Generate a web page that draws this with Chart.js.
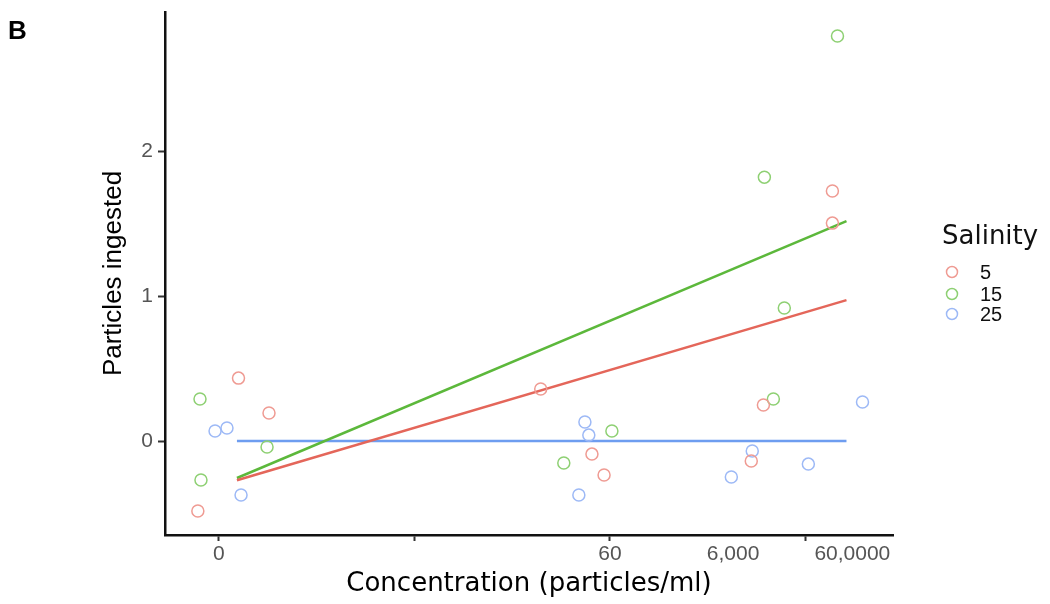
<!DOCTYPE html>
<html>
<head>
<meta charset="utf-8">
<script src="https://cdn.jsdelivr.net/npm/chart.js@4.4.1/dist/chart.umd.min.js"></script>
<style>
  html, body { margin: 0; padding: 0; background: #fff; }
  canvas { display: block; }
</style>
</head>
<body>
<canvas id="myChart" width="1050" height="604"></canvas>
<script>
// salinity groups
const grupos = ["5", "15", "25"]

// points per group (x on the transformed concentration axis)
const sal5X = [0.10, 0.256, -0.108, 1.646, 1.908, 1.97, 2.723, 2.785, 3.138, 3.138]
const sal5Y = [0.434, 0.193, -0.483, 0.359, -0.09, -0.234, -0.138, 0.248, 1.724, 1.503]
const sal15X = [-0.097, -0.092, 0.246, 1.764, 2.01, 2.79, 2.892, 2.836, 3.164]
const sal15Y = [0.29, -0.269, -0.041, -0.152, 0.069, 1.82, 0.917, 0.29, 2.793]
const sal25X = [-0.02, 0.041, 0.113, 1.872, 1.892, 1.841, 2.728, 2.621, 3.015, 3.292]
const sal25Y = [0.069, 0.09, -0.372, 0.131, 0.041, -0.372, -0.069, -0.248, -0.159, 0.269]

// fitted lines (start / end)
const lineaX = [0.092, 3.21]
const linea5Y = [-0.27, 0.972]
const linea15Y = [-0.255, 1.517]
const linea25Y = [0, 0]

// axis ticks
const xTickValores = [0, 1, 2, 2.63, 3, 3.24]
const xTickTextos = ["0", "", "60", "6,000", "", "60,0000"]
const xTickMarca = [true, true, true, false, true, false]
const yTickValores = [0, 1, 2]

const colPunto = ["#ef9b93", "#8ed073", "#9db9f6"]
const colLinea = ["#e4665a", "#5cb83b", "#6e9df0"]

const fuente = "'Liberation Sans', Arial, sans-serif"
const fuenteAncha = "'DejaVu Sans', sans-serif"

const juntar = (xs, ys) => xs.map((x, i) => ({ x: x, y: ys[i] }))

const puntos = [[sal5X, sal5Y], [sal15X, sal15Y], [sal25X, sal25Y]]
const lineas = [linea5Y, linea15Y, linea25Y]

let datasets = []
for (let i = 0; i < grupos.length; i++) {
  datasets.push({
    label: grupos[i],
    data: juntar(puntos[i][0], puntos[i][1]),
    showLine: false,
    pointStyle: "circle",
    pointRadius: 6,
    pointBorderWidth: 1.5,
    pointBorderColor: colPunto[i],
    pointBackgroundColor: "rgba(0,0,0,0)"
  })
}
for (let i = 0; i < grupos.length; i++) {
  datasets.push({
    label: "fit " + grupos[i],
    data: juntar(lineaX, lineas[i]),
    showLine: true,
    borderColor: colLinea[i],
    borderWidth: 2.5,
    pointRadius: 0
  })
}

// legend + panel letter
const extras = {
  id: "extras",
  afterDraw(chart) {
    const ctx = chart.ctx
    ctx.save()
    ctx.fillStyle = "#000"
    ctx.font = "bold 26px " + fuente
    ctx.textBaseline = "middle"
    ctx.textAlign = "left"
    ctx.fillText("B", 8, 32)

    ctx.font = "26px " + fuenteAncha
    ctx.fillStyle = "#111"
    ctx.fillText("Salinity", 942, 237)
    ctx.font = "20px " + fuente
    const ys = [272, 294, 314]
    for (let i = 0; i < grupos.length; i++) {
      ctx.beginPath()
      ctx.arc(952, ys[i], 5.5, 0, Math.PI * 2)
      ctx.strokeStyle = colPunto[i]
      ctx.lineWidth = 1.5
      ctx.stroke()
      ctx.fillStyle = "#111"
      ctx.fillText(grupos[i], 980, ys[i] + 1)
    }
    ctx.restore()
  }
}

const ctx = document.getElementById("myChart").getContext("2d")
const myChart = new Chart(ctx, {
  type: "scatter",
  data: { datasets: datasets },
  plugins: [extras],
  options: {
    responsive: false,
    animation: false,
    layout: { padding: { top: 12, right: 157, bottom: 0, left: 0 } },
    plugins: {
      legend: { display: false },
      tooltip: { enabled: false }
    },
    scales: {
      x: {
        type: "linear",
        min: -0.276,
        max: 3.448,
        afterFit: (scale) => {
          scale.height = 69
          scale.paddingLeft = 0
          scale.paddingRight = 0
        },
        afterBuildTicks: (scale) => {
          scale.ticks = xTickValores.map((v) => ({ value: v }))
        },
        border: { display: true, color: "#111", width: 2.5 },
        grid: {
          drawOnChartArea: false,
          drawTicks: true,
          tickLength: 6,
          tickWidth: 2,
          tickColor: (c) => (xTickMarca[c.index] ? "#333" : "rgba(0,0,0,0)")
        },
        ticks: {
          autoSkip: false,
          maxRotation: 0,
          padding: 1,
          color: "#555",
          font: { family: fuente, size: 21 },
          callback: (v, i) => xTickTextos[i]
        },
        title: {
          display: true,
          text: "Concentration (particles/ml)",
          color: "#000",
          font: { family: fuenteAncha, size: 26 },
          padding: { top: 0, bottom: 4 }
        }
      },
      y: {
        type: "linear",
        min: -0.648,
        max: 2.959,
        afterFit: (scale) => {
          scale.width = 165
          scale.paddingTop = 0
          scale.paddingBottom = 0
        },
        afterBuildTicks: (scale) => {
          scale.ticks = yTickValores.map((v) => ({ value: v }))
        },
        border: { display: true, color: "#111", width: 2.5 },
        grid: {
          drawOnChartArea: false,
          drawTicks: true,
          tickLength: 7,
          tickWidth: 2,
          tickColor: "#333"
        },
        ticks: {
          padding: 5,
          color: "#555",
          font: { family: fuente, size: 21 },
          callback: (v) => String(v)
        },
        title: {
          display: true,
          text: "Particles ingested",
          color: "#000",
          font: { family: fuente, size: 26 },
          padding: { top: 98, bottom: 0 }
        }
      }
    }
  }
})
</script>
</body>
</html>
